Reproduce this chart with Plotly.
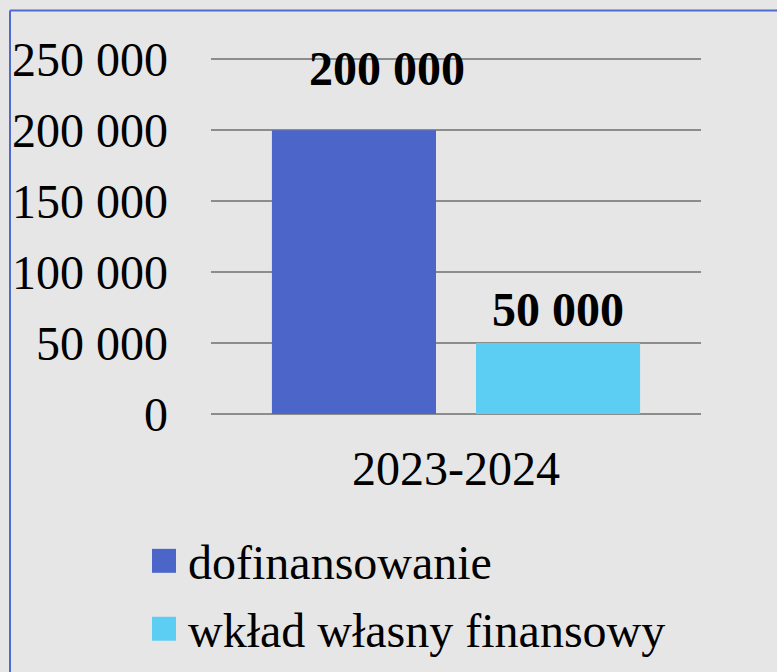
import plotly.graph_objects as go

categories = ["2023-2024"]
series_names = ["dofinansowanie", "wkład własny finansowy"]
series_values = [[200000], [50000]]
series_colors = ["#4b65c8", "#5ccdf3"]
label_texts = ["200 000", "50 000"]
y_tick_values = [0, 50000, 100000, 150000, 200000, 250000]
y_tick_labels = ["0", "50 000", "100 000", "150 000", "200 000", "250 000"]

W, H = 777, 672
Y_MAX = 251000
L, R, B = 211, 701, 414  # plot area in pixels
PX_PER_UNIT = 355 / 250000
T = B - Y_MAX * PX_PER_UNIT
FONT = "Liberation Serif, Times New Roman, serif"
FS = 48
BG = "#e6e6e6"

def px_x(p):
    return (p - L) / (R - L)

def px_y(p):
    return (B - p) / (B - T)

fig = go.Figure()
for name, vals, col in zip(series_names, series_values, series_colors):
    fig.add_trace(go.Bar(x=categories, y=vals, name=name, marker_color=col,
                         marker_line_width=0, showlegend=False))

# data labels above bars (offsets as in original)
label_xshift = [-69, 102]
label_yshift = [62, 34]
annotations = []
for i, (vals, txt) in enumerate(zip(series_values, label_texts)):
    annotations.append(dict(
        x=categories[0], y=vals[0], xref="x", yref="y",
        text="<b>" + txt + "</b>", showarrow=False,
        xshift=label_xshift[i], yshift=label_yshift[i],
        yanchor="middle", font=dict(family=FONT, size=FS, color="black")))

# custom legend
shapes = []
leg_y = [561, 629]
for name, col, yy in zip(series_names, series_colors, leg_y):
    shapes.append(dict(type="rect", xref="paper", yref="paper",
                       x0=px_x(152), x1=px_x(176), y0=px_y(yy + 12), y1=px_y(yy - 12),
                       fillcolor=col, line_width=0))
    annotations.append(dict(x=px_x(186), y=px_y(yy + 2), xref="paper", yref="paper",
                            text=name, showarrow=False, xanchor="left", yanchor="middle",
                            font=dict(family=FONT, size=FS, color="black")))

# blue border (top and left visible)
shapes.append(dict(type="line", xref="paper", yref="paper",
                   x0=px_x(10), x1=px_x(800), y0=px_y(10), y1=px_y(10),
                   line=dict(color="#4f6bd0", width=2)))
shapes.append(dict(type="line", xref="paper", yref="paper",
                   x0=px_x(10), x1=px_x(10), y0=px_y(10), y1=px_y(700),
                   line=dict(color="#4f6bd0", width=2)))

fig.update_layout(
    width=W, height=H,
    margin=dict(l=L, r=W - R, t=T, b=H - B, pad=0),
    paper_bgcolor=BG, plot_bgcolor=BG,
    barmode="group", bargap=0.167, bargroupgap=0.196,
    font=dict(family=FONT, size=FS, color="black"),
    shapes=shapes, annotations=annotations,
    showlegend=False,
    xaxis=dict(showgrid=False, showline=False, ticks="", ticklabelstandoff=22,
               tickfont=dict(family=FONT, size=FS)),
    yaxis=dict(range=[0, Y_MAX], tickvals=y_tick_values, ticktext=y_tick_labels,
               showgrid=True, gridcolor="#8c8c8c", gridwidth=2,
               zeroline=True, zerolinecolor="#8c8c8c", zerolinewidth=2,
               showline=False, ticks="", ticklabelstandoff=42,
               tickfont=dict(family=FONT, size=FS)),
)

fig.write_html("out.html", config={"displayModeBar": False},
               post_script="document.body.style.margin='0';document.body.style.overflow='hidden';document.body.style.background='" + BG + "';")
